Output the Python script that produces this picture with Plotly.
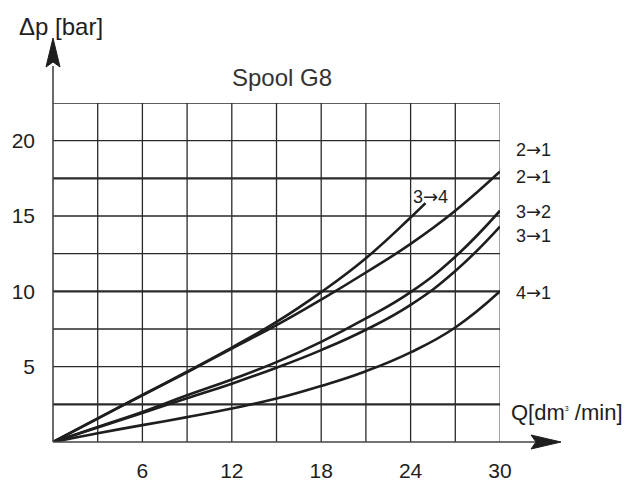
import plotly.graph_objects as go

# ---------------- data ----------------
q_full = [0, 3, 6, 9, 12, 15, 18, 21, 24, 27, 30]
q_34 = [0, 3, 6, 9, 12, 15, 18, 21, 24, 25]

dp_34 = [0, 1.57, 3.12, 4.67, 6.27, 7.97, 9.95, 12.2, 14.9, 15.85]
dp_21 = [0, 1.55, 3.1, 4.63, 6.2, 7.75, 9.45, 11.25, 13.15, 15.35, 17.95]
dp_32 = [0, 1.0, 2.0, 3.1, 4.15, 5.3, 6.65, 8.2, 9.95, 12.3, 15.35]
dp_31 = [0, 0.97, 1.93, 2.9, 3.87, 4.93, 6.1, 7.45, 9.1, 11.35, 14.3]
dp_41 = [0, 0.58, 1.12, 1.65, 2.22, 2.88, 3.72, 4.7, 5.95, 7.6, 10.0]

x_grid = [3, 6, 9, 12, 15, 18, 21, 24, 27, 30]
y_grid = [2.5, 5, 7.5, 10, 12.5, 15, 17.5, 20, 22.5]
y_grid_bold = [2.5, 10, 17.5]
x_ticks = [6, 12, 18, 24, 30]
y_ticks = [5, 10, 15, 20]

ARW = "<span style='font-family:DejaVu Sans'>→</span>"
right_labels = ["2" + ARW + "1", "2" + ARW + "1", "3" + ARW + "2", "3" + ARW + "1", "4" + ARW + "1"]
right_label_y = [19.4, 17.6, 15.3, 13.7, 9.95]
label_34 = "3" + ARW + "4"

title_text = "Spool G8"
y_title = "Δp [bar]"
x_title = "Q[dm<sup><span style='font-size:7px'>3</span></sup> /min]"

# ---------------- figure ----------------
FONT = "Liberation Sans, Arial, Helvetica, sans-serif"
INK = "#1e1e1e"
W, H = 629, 483
ML, MR, MT, MB = 53, 129, 103, 41
PW = W - ML - MR
PH = H - MT - MB


def px(xp):
    return (xp - ML) / PW


def py(yp):
    return (H - MB - yp) / PH


fig = go.Figure()

for xs, ys in [(q_34, dp_34), (q_full, dp_21), (q_full, dp_32), (q_full, dp_31), (q_full, dp_41)]:
    fig.add_trace(go.Scatter(x=xs, y=ys, mode="lines",
                             line=dict(color=INK, width=2.6, shape="spline", smoothing=1.3),
                             showlegend=False, hoverinfo="skip"))

shapes = []
for xv in x_grid:
    shapes.append(dict(type="line", xref="x", yref="y", x0=xv, x1=xv, y0=0, y1=22.5,
                       line=dict(color="#2a2a2a" if xv != 30 else "#777", width=1.3), layer="below"))
for yv in y_grid:
    w = 2.4 if yv in y_grid_bold else 1.3
    shapes.append(dict(type="line", xref="x", yref="y", x0=0, x1=30, y0=yv, y1=yv,
                       line=dict(color="#2a2a2a", width=w), layer="below"))

# axes with arrows (paper coords)
shapes.append(dict(type="line", xref="paper", yref="paper", x0=0, x1=0, y0=0, y1=py(66),
                   line=dict(color="#444", width=1.6)))
shapes.append(dict(type="path", xref="paper", yref="paper",
                   path=f"M {px(53)} {py(38)} L {px(46)} {py(67)} L {px(53)} {py(62)} L {px(60)} {py(67)} Z",
                   fillcolor=INK, line=dict(color=INK, width=1)))
shapes.append(dict(type="line", xref="paper", yref="paper", x0=0, x1=px(535), y0=0, y1=0,
                   line=dict(color="#444", width=1.6)))
shapes.append(dict(type="path", xref="paper", yref="paper",
                   path=f"M {px(561)} {py(442)} L {px(531)} {py(435)} L {px(536)} {py(442)} L {px(531)} {py(449)} Z",
                   fillcolor=INK, line=dict(color=INK, width=1)))

annotations = []
for txt, yv in zip(right_labels, right_label_y):
    annotations.append(dict(x=px(514), y=yv, xref="paper", yref="y", text=txt, showarrow=False,
                            xanchor="left", yanchor="middle", font=dict(size=18, color=INK, family=FONT)))
annotations.append(dict(x=24.0, y=16.3, xref="x", yref="y", text=label_34, showarrow=False,
                        xanchor="left", yanchor="middle", font=dict(size=18, color=INK, family=FONT)))
annotations.append(dict(x=px(282), y=py(77), xref="paper", yref="paper", text=title_text, showarrow=False,
                        xanchor="center", yanchor="middle", font=dict(size=24, color="#333", family=FONT)))
annotations.append(dict(x=px(17), y=py(27), xref="paper", yref="paper", text=y_title, showarrow=False,
                        xanchor="left", yanchor="middle", font=dict(size=24, color=INK, family=FONT)))
annotations.append(dict(x=px(509), y=py(412), xref="paper", yref="paper", text=x_title, showarrow=False,
                        xanchor="left", yanchor="middle", font=dict(size=22, color=INK, family=FONT)))

fig.update_layout(
    width=W, height=H,
    margin=dict(l=ML, r=MR, t=MT, b=MB, autoexpand=False),
    paper_bgcolor="white", plot_bgcolor="white",
    shapes=shapes, annotations=annotations,
    xaxis=dict(range=[0, 30], showgrid=False, zeroline=False, showline=False,
               tickvals=x_ticks, ticks="", ticklabelstandoff=14,
               tickfont=dict(size=21, color=INK, family=FONT), fixedrange=True),
    yaxis=dict(range=[0, 22.5], showgrid=False, zeroline=False, showline=False,
               tickvals=y_ticks, ticks="", ticklabelstandoff=17,
               tickfont=dict(size=21, color=INK, family=FONT), fixedrange=True),
)

fig.write_html("out.html", config={"displayModeBar": False},
               post_script="document.body.style.margin='0';document.body.style.overflow='hidden';")
